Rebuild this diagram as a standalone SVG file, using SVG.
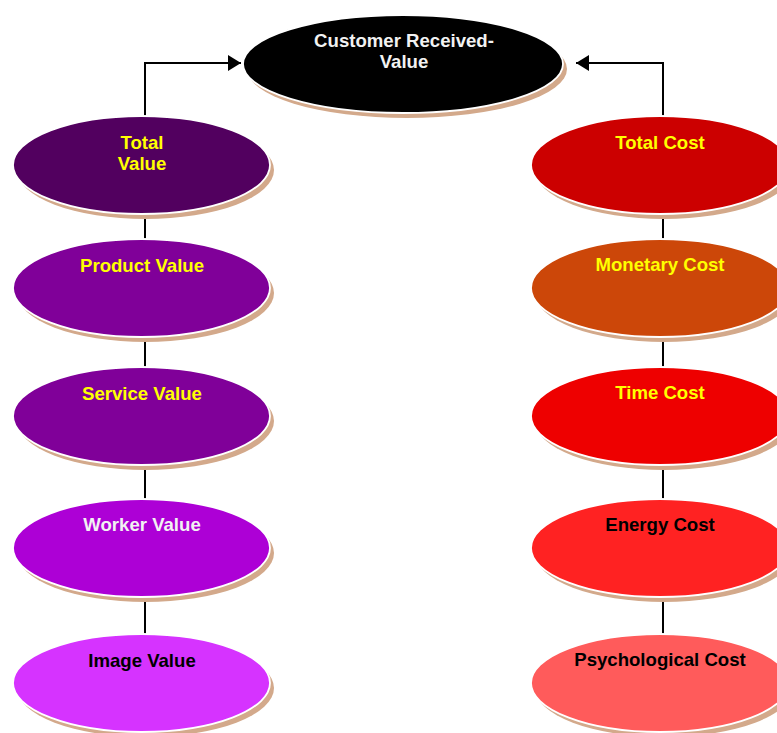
<svg xmlns="http://www.w3.org/2000/svg" width="777" height="733" viewBox="0 0 777 733">
<defs>
<style>
.sh{fill:#D3A98B}
.el{stroke:#FFFFFF;stroke-width:1.8}
.t{font-family:"Liberation Sans",Arial,sans-serif;font-weight:bold;font-size:18.6px;text-anchor:middle}
.y{fill:#FFFF00}
.w{fill:#F2F2F2}
.k{fill:#000000}
.c{stroke:#000000;stroke-width:2;fill:none}
</style>
<marker id="ah" viewBox="0 0 13 16" refX="13" refY="8" markerWidth="13" markerHeight="16" markerUnits="userSpaceOnUse" orient="auto">
<path d="M0,0 L13,8 L0,16 Z" fill="#000000"/>
</marker>
</defs>
<rect width="777" height="733" fill="#FFFFFF"/>
<g id="connectors">
<path class="c" d="M145,117 V63 H241" marker-end="url(#ah)"/>
<path class="c" d="M663,117 V63 H576" marker-end="url(#ah)"/>
<line class="c" x1="145" y1="214" x2="145" y2="239"/>
<line class="c" x1="145" y1="337" x2="145" y2="367"/>
<line class="c" x1="145" y1="465" x2="145" y2="499"/>
<line class="c" x1="145" y1="597" x2="145" y2="634"/>
<line class="c" x1="663" y1="214" x2="663" y2="239"/>
<line class="c" x1="663" y1="337" x2="663" y2="367"/>
<line class="c" x1="663" y1="465" x2="663" y2="499"/>
<line class="c" x1="663" y1="597" x2="663" y2="634"/>
</g>
<g id="customer-received-value">
<ellipse class="sh" cx="407" cy="69" rx="160" ry="49"/>
<ellipse class="el" cx="403" cy="64" rx="160" ry="49" fill="#000000"/>
<text class="t w" x="404" y="47">Customer Received-</text>
<text class="t w" x="404" y="68">Value</text>
</g>
<g id="total-value">
<ellipse class="sh" cx="145.5" cy="170" rx="128.5" ry="49"/>
<ellipse class="el" cx="141.5" cy="165" rx="128.5" ry="49" fill="#52005F"/>
<text class="t y" x="142" y="149">Total</text>
<text class="t y" x="142" y="170">Value</text>
</g>
<g id="product-value">
<ellipse class="sh" cx="145.5" cy="293" rx="128.5" ry="49"/>
<ellipse class="el" cx="141.5" cy="288" rx="128.5" ry="49" fill="#800099"/>
<text class="t y" x="142" y="272">Product Value</text>
</g>
<g id="service-value">
<ellipse class="sh" cx="145.5" cy="421" rx="128.5" ry="49"/>
<ellipse class="el" cx="141.5" cy="416" rx="128.5" ry="49" fill="#800099"/>
<text class="t y" x="142" y="400">Service Value</text>
</g>
<g id="worker-value">
<ellipse class="sh" cx="145.5" cy="553" rx="128.5" ry="49"/>
<ellipse class="el" cx="141.5" cy="548" rx="128.5" ry="49" fill="#AD00D6"/>
<text class="t w" x="142" y="531">Worker Value</text>
</g>
<g id="image-value">
<ellipse class="sh" cx="145.5" cy="688" rx="128.5" ry="49"/>
<ellipse class="el" cx="141.5" cy="683" rx="128.5" ry="49" fill="#D633FF"/>
<text class="t k" x="142" y="667">Image Value</text>
</g>
<g id="total-cost">
<ellipse class="sh" cx="664" cy="170" rx="129" ry="49"/>
<ellipse class="el" cx="660" cy="165" rx="129" ry="49" fill="#CC0000"/>
<text class="t y" x="660" y="149">Total Cost</text>
</g>
<g id="monetary-cost">
<ellipse class="sh" cx="664" cy="293" rx="129" ry="49"/>
<ellipse class="el" cx="660" cy="288" rx="129" ry="49" fill="#CC4709"/>
<text class="t y" x="660" y="271">Monetary Cost</text>
</g>
<g id="time-cost">
<ellipse class="sh" cx="664" cy="421" rx="129" ry="49"/>
<ellipse class="el" cx="660" cy="416" rx="129" ry="49" fill="#EE0000"/>
<text class="t y" x="660" y="399">Time Cost</text>
</g>
<g id="energy-cost">
<ellipse class="sh" cx="664" cy="553" rx="129" ry="49"/>
<ellipse class="el" cx="660" cy="548" rx="129" ry="49" fill="#FF2222"/>
<text class="t k" x="660" y="531">Energy Cost</text>
</g>
<g id="psychological-cost">
<ellipse class="sh" cx="664" cy="688" rx="129" ry="49"/>
<ellipse class="el" cx="660" cy="683" rx="129" ry="49" fill="#FF5B5B"/>
<text class="t k" x="660" y="666">Psychological Cost</text>
</g>
</svg>
